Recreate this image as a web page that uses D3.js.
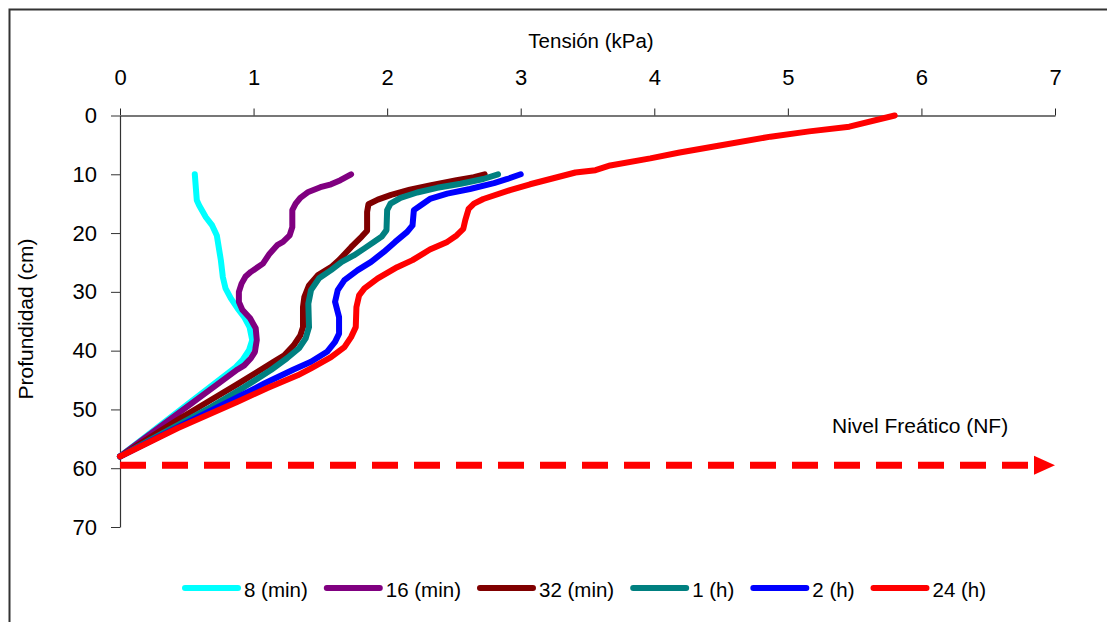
<!DOCTYPE html>
<html>
<head>
<meta charset="utf-8">
<script src="https://d3js.org/d3.v7.min.js"></script>
<style>
  html, body { margin: 0; padding: 0; background: #fff; }
  svg { display: block; font-family: "Liberation Sans", Arial, sans-serif; }
</style>
</head>
<body>
<svg id="chart" width="1107" height="622"></svg>
<script>
// ---- data (tension kPa, depth cm) ----
const xTicks = [0, 1, 2, 3, 4, 5, 6, 7];
const yTicks = [0, 10, 20, 30, 40, 50, 60, 70];
const seriesNames = ["8 (min)", "16 (min)", "32 (min)", "1 (h)", "2 (h)", "24 (h)"];
const seriesColors = ["#00FFFF", "#800080", "#800000", "#008080", "#0000FF", "#FF0000"];

const s8min = [[0.56,10],[0.575,14.4],[0.593,15.3],[0.643,17.3],[0.69,18.7],[0.725,20.4],[0.755,24.6],[0.77,27.5],[0.79,29.4],[0.83,31.1],[0.88,32.8],[0.93,34.3],[0.97,36],[0.99,38.2],[0.966,39.9],[0.917,41.6],[0.867,42.8],[0,58]];
const s16min = [[1.73,10],[1.65,11],[1.58,11.7],[1.50,12.2],[1.41,13],[1.35,14],[1.315,15],[1.29,16.1],[1.29,19],[1.27,20.4],[1.22,21.5],[1.18,22],[1.12,23.5],[1.07,25.2],[0.98,26.6],[0.94,27.4],[0.91,28.6],[0.89,30],[0.89,31.7],[0.917,33.1],[0.974,34.5],[1.016,36.2],[1.024,38.2],[1.01,40.2],[0.98,41.3],[0.93,42.5],[0.88,43.2],[0,58]];
const s32min = [[2.73,10],[2.65,10.5],[2.52,11],[2.32,11.9],[2.17,12.6],[2.03,13.5],[1.93,14.3],[1.86,15.1],[1.85,16.4],[1.85,19.6],[1.81,20.6],[1.73,22.4],[1.64,24.6],[1.58,25.8],[1.48,27.2],[1.415,28.9],[1.38,30.9],[1.37,32.6],[1.37,36],[1.35,37.4],[1.30,39.1],[1.23,40.8],[1.15,41.9],[1.03,43.6],[0.88,45.7],[0.68,48.4],[0.43,51.8],[0,58]];
const s1h = [[2.83,10],[2.72,10.8],[2.55,11.6],[2.375,12.3],[2.225,13.1],[2.10,14],[2.025,15],[2.0,16.1],[1.995,19.5],[1.96,20.6],[1.90,21.5],[1.83,22.6],[1.75,23.8],[1.66,24.9],[1.58,26.3],[1.49,27.7],[1.43,29.7],[1.41,32],[1.415,36],[1.39,37.9],[1.34,39.6],[1.25,41.3],[1.13,43.3],[0.93,46.2],[0.68,49.6],[0,58]];
const s2h = [[3.0,10],[2.90,10.8],[2.80,11.5],[2.62,12.5],[2.45,13.3],[2.32,14.2],[2.25,15.3],[2.20,16.1],[2.19,18.7],[2.15,19.8],[2.06,21.5],[1.975,23.2],[1.88,24.9],[1.78,26.3],[1.68,28],[1.63,29.7],[1.61,31.7],[1.64,34.3],[1.64,37.1],[1.61,38.5],[1.55,40.2],[1.43,41.9],[1.30,43.2],[1.08,45.6],[0.88,47.9],[0,58]];
const s24h = [[5.8,0],[5.46,1.9],[5.16,2.7],[4.87,3.6],[4.49,5.1],[4.19,6.3],[3.97,7.3],[3.67,8.5],[3.56,9.3],[3.41,9.7],[3.07,11.7],[2.92,12.7],[2.72,14.2],[2.65,15],[2.61,15.9],[2.585,17.8],[2.57,19.3],[2.52,20.4],[2.45,21.5],[2.32,22.8],[2.19,24.6],[2.075,25.8],[1.93,27.7],[1.83,29.4],[1.79,30.6],[1.77,32.6],[1.765,36],[1.73,37.7],[1.68,39.4],[1.58,41.1],[1.43,43],[1.33,44.2],[1.10,46.4],[0.88,48.7],[0.43,53.2],[0,58]];

const waterTable = { depth: 59.5, from: 0, to: 7, label: "Nivel Freático (NF)" };
const xTitle = "Tensión (kPa)";
const yTitle = "Profundidad (cm)";

const allSeries = [s8min, s16min, s32min, s1h, s2h, s24h];

// ---- drawing ----
const svg = d3.select("#chart");
const x = d3.scaleLinear().domain([0, 7]).range([120, 1055]);
const y = d3.scaleLinear().domain([0, 70]).range([115.5, 527]);

// outer frame
svg.append("rect").attr("x", 9.5).attr("y", 9.5).attr("width", 1110).attr("height", 630)
  .attr("fill", "none").attr("stroke", "#333").attr("stroke-width", 2);

// top axis
const gx = svg.append("g").attr("transform", `translate(0,${y(0)})`)
  .call(d3.axisTop(x).tickValues(xTicks).tickFormat(d3.format("d")).tickSize(7).tickSizeOuter(0).tickPadding(24));
gx.select(".domain").attr("stroke", "#777").attr("stroke-width", 2);
gx.selectAll(".tick line").attr("stroke", "#222");
gx.selectAll(".tick text").attr("font-size", 22).attr("fill", "#000").attr("font-family", "Liberation Sans, Arial, sans-serif");

// left axis
const gy = svg.append("g").attr("transform", `translate(${x(0)},0)`)
  .call(d3.axisLeft(y).tickValues(yTicks).tickFormat(d3.format("d")).tickSize(9).tickSizeOuter(0).tickPadding(14));
gy.select(".domain").attr("stroke", "#333").attr("stroke-width", 1.2);
gy.selectAll(".tick line").attr("stroke", "#333");
gy.selectAll(".tick text").attr("font-size", 22).attr("fill", "#000").attr("font-family", "Liberation Sans, Arial, sans-serif");

// titles
svg.append("text").attr("x", 591).attr("y", 48).attr("text-anchor", "middle")
  .attr("font-size", 20.5).text(xTitle);
svg.append("text").attr("transform", "translate(33,319) rotate(-90)").attr("text-anchor", "middle")
  .attr("font-size", 21).text(yTitle);

// water table arrow
const wy = y(waterTable.depth);
svg.append("line").attr("x1", x(waterTable.from)).attr("x2", x(waterTable.to) - 25)
  .attr("y1", wy).attr("y2", wy).attr("stroke", "#FF0000").attr("stroke-width", 7)
  .attr("stroke-dasharray", "26,16");
svg.append("path")
  .attr("d", `M${x(waterTable.to) - 21},${wy - 9.5} L${x(waterTable.to)},${wy} L${x(waterTable.to) - 21},${wy + 9.5} Z`)
  .attr("fill", "#FF0000");
svg.append("text").attr("x", 832).attr("y", 433).attr("font-size", 21).text(waterTable.label);

// series lines
const line = d3.line().x(d => x(d[0])).y(d => y(d[1]));
allSeries.forEach((s, i) => {
  svg.append("path").datum(s).attr("d", line)
    .attr("fill", "none").attr("stroke", seriesColors[i]).attr("stroke-width", 6)
    .attr("stroke-linejoin", "round").attr("stroke-linecap", "round");
});

// legend
let lx = 182;
const ly = 588;
seriesNames.forEach((name, i) => {
  svg.append("line").attr("x1", lx + 3).attr("x2", lx + 56).attr("y1", ly).attr("y2", ly)
    .attr("stroke", seriesColors[i]).attr("stroke-width", 6).attr("stroke-linecap", "round");
  const t = svg.append("text").attr("x", lx + 62).attr("y", ly + 8.5).attr("font-size", 20.5).text(name);
  const w = t.node().getComputedTextLength();
  lx = lx + 62 + w + 16;
});
</script>
</body>
</html>
